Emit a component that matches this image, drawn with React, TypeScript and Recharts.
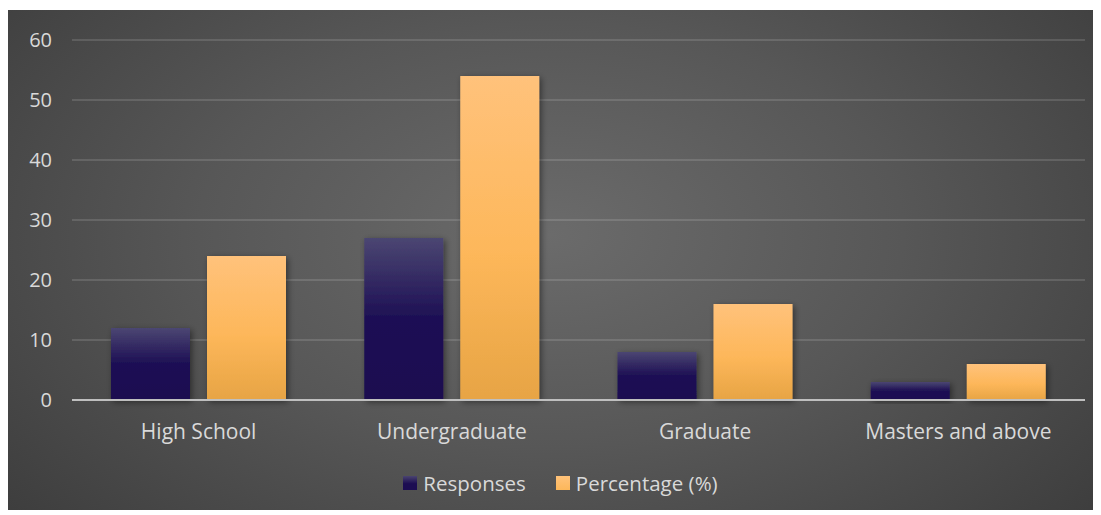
import { BarChart, Bar, XAxis, YAxis, CartesianGrid, Legend } from "recharts";

const categories = ["High School", "Undergraduate", "Graduate", "Masters and above"];
const responses = [12, 27, 8, 3];
const percentage = [24, 54, 16, 6];
const yTicks = [0, 10, 20, 30, 40, 50, 60];

const data = categories.map((name, i) => ({
  name,
  responses: responses[i],
  percentage: percentage[i],
}));

const FONT = "'Open Sans', sans-serif";
const TEXT = "#d9d9d9";

function LegendContent() {
  const items = [
    { label: "Responses", bg: "linear-gradient(#4a4470, #1c0d52 55%)" },
    { label: "Percentage (%)", bg: "linear-gradient(#ffc27a, #fcb75a)" },
  ];
  return (
    <div style={{ display: "flex", justifyContent: "center", gap: 30, paddingLeft: 28, fontFamily: FONT, fontSize: 20.5, color: TEXT, lineHeight: "26px" }}>
      {items.map((it) => (
        <div key={it.label} style={{ display: "flex", alignItems: "center" }}>
          <span style={{ width: 14, height: 14, background: it.bg, display: "inline-block", marginRight: 6 }} />
          <span>{it.label}</span>
        </div>
      ))}
    </div>
  );
}

export default function App() {
  return (
    <div
      style={{
        width: 1085,
        height: 500,
        marginTop: 2,
        background: "radial-gradient(ellipse 65% 85% at 50% 45%, #6b6b6b 0%, #575757 50%, #3e3e3e 100%)",
      }}
    >
      <BarChart
        width={1085}
        height={500}
        data={data}
        margin={{ top: 30, right: 8, left: 0, bottom: 12 }}
        barSize={79}
        barGap={17}
      >
        <defs>
          <linearGradient id="gResp" x1="0" y1="0" x2="0" y2="1">
            <stop offset="0%" stopColor="#4b4672" />
            <stop offset="50%" stopColor="#1d0f54" />
            <stop offset="100%" stopColor="#1b0c50" />
          </linearGradient>
          <linearGradient id="gPct" x1="0" y1="0" x2="0" y2="1">
            <stop offset="0%" stopColor="#ffc27b" />
            <stop offset="55%" stopColor="#fdb75a" />
            <stop offset="100%" stopColor="#e7a444" />
          </linearGradient>
          <filter id="shadow" x="-20%" y="-20%" width="140%" height="140%">
            <feDropShadow dx="2" dy="2" stdDeviation="3" floodColor="#000" floodOpacity="0.45" />
          </filter>
        </defs>
        <CartesianGrid vertical={false} stroke="rgba(255,255,255,0.13)" strokeWidth={2} />
        <XAxis
          dataKey="name"
          tickLine={false}
          tickSize={0}
          tickMargin={24}
          axisLine={{ stroke: "#bfbfbf", strokeWidth: 2 }}
          tick={{ fill: TEXT, fontSize: 21, fontFamily: FONT }}
          height={70}
        />
        <YAxis
          domain={[0, 60]}
          ticks={yTicks}
          width={64}
          axisLine={false}
          tickLine={false}
          tickSize={6}
          tickMargin={14}
          tick={{ fill: TEXT, fontSize: 20, fontFamily: FONT }}
        />
        <Legend verticalAlign="bottom" height={28} content={<LegendContent />} />
        <Bar dataKey="responses" name="Responses" fill="url(#gResp)" filter="url(#shadow)" isAnimationActive={false} />
        <Bar dataKey="percentage" name="Percentage (%)" fill="url(#gPct)" filter="url(#shadow)" isAnimationActive={false} />
      </BarChart>
    </div>
  );
}
